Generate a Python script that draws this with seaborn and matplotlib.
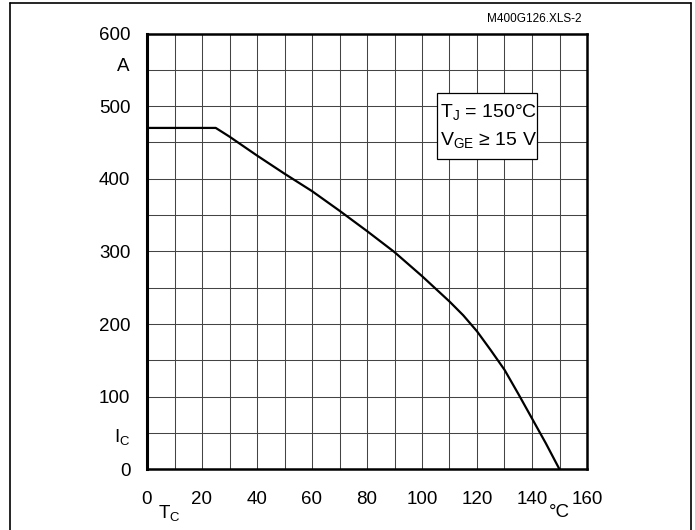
import matplotlib
matplotlib.use("Agg")
import matplotlib.pyplot as plt
import matplotlib.patches as mpatches
from matplotlib.lines import Line2D
import seaborn as sns
import pandas as pd

# Maximum DC collector current vs. case temperature
case_temp = [0, 25, 30, 40, 50, 60, 70, 80, 90, 100, 110, 115, 120, 125,
             130, 135, 140, 145, 150]
collector_current = [470, 470, 458, 432, 407, 383, 356, 328, 299, 266, 231,
                     212, 190, 164, 137, 104, 70, 36, 0]

x_ticks = [0, 20, 40, 60, 80, 100, 120, 140, 160]
y_ticks = [0, 100, 200, 300, 400, 500, 600]

sns.set_theme(style="white")
plt.rcParams["font.family"] = ["Liberation Sans", "DejaVu Sans"]
plt.rcParams["mathtext.fontset"] = "custom"
plt.rcParams["mathtext.rm"] = "Liberation Sans"
plt.rcParams["mathtext.it"] = "Liberation Sans:italic"

df = pd.DataFrame({"Tc": case_temp, "Ic": collector_current})

fig = plt.figure(figsize=(6.95, 5.30), dpi=100)
ax = fig.add_axes([147 / 695, 1 - 469.3 / 530, 440 / 695, 435.8 / 530])

sns.lineplot(data=df, x="Tc", y="Ic", ax=ax, color="black", lw=1.6, zorder=3)

ax.set_xlim(0, 160)
ax.set_ylim(0, 600)
ax.set_xticks(x_ticks)
ax.set_yticks(y_ticks)
ax.set_xticks(range(0, 161, 10), minor=True)
ax.set_yticks(range(0, 601, 50), minor=True)
ax.grid(which="both", color="#444444", lw=0.75)
ax.set_axisbelow(True)
ax.tick_params(which="both", length=0)
ax.tick_params(axis="y", pad=12, labelsize=13.5, colors="black")
ax.tick_params(axis="x", pad=15.5, labelsize=13.5, colors="black")
ax.set_xlabel("")
ax.set_ylabel("")
for side, sp in ax.spines.items():
    sp.set_visible(True)
    sp.set_color("black")
    sp.set_linewidth(1.8)
ax.spines["left"].set_linewidth(2.2)

# Axis unit labels
ytrans = ax.get_yaxis_transform()
ax.text(-0.039, 555, "A", transform=ytrans, ha="right", va="center",
        fontsize=13.5, color="black")
ax.text(-0.039, 45, r"I$_{\mathrm{C}}$", transform=ytrans, ha="right",
        va="center", fontsize=13.5, color="black")
xtrans = ax.get_xaxis_transform()
ax.text(8, -0.1, r"T$_{\mathrm{C}}$", transform=xtrans, ha="center",
        va="center", fontsize=13.5, color="black")
ax.text(150, -0.098, "°C", transform=xtrans, ha="center", va="center",
        fontsize=13.5, color="black")

# Operating condition box
ax.add_patch(mpatches.Rectangle((105.3, 427.5), 36.6, 90.5, facecolor="white",
                                edgecolor="black", lw=0.9, zorder=4))
ax.text(106.4, 492, r"T$_{\mathrm{J}}$ = 150°C", ha="left", va="center",
        fontsize=14, color="black", zorder=5)
ax.text(106.4, 453, r"V$_{\mathrm{GE}}$ ≥ 15 V", ha="left", va="center",
        fontsize=14, color="black", zorder=5)

# Document reference
fig.text(582 / 695, 1 - 19 / 530, "M400G126.XLS-2", ha="right", va="center",
         fontsize=8.5, color="black")

# Outer frame
for xs, ys in [([10, 10], [3, 530]), ([10, 691], [3, 3]), ([691, 691], [3, 530])]:
    fig.add_artist(Line2D([x / 695 for x in xs], [1 - y / 530 for y in ys],
                          transform=fig.transFigure, color="black", lw=1.2))

fig.savefig("out.png", dpi=100)
